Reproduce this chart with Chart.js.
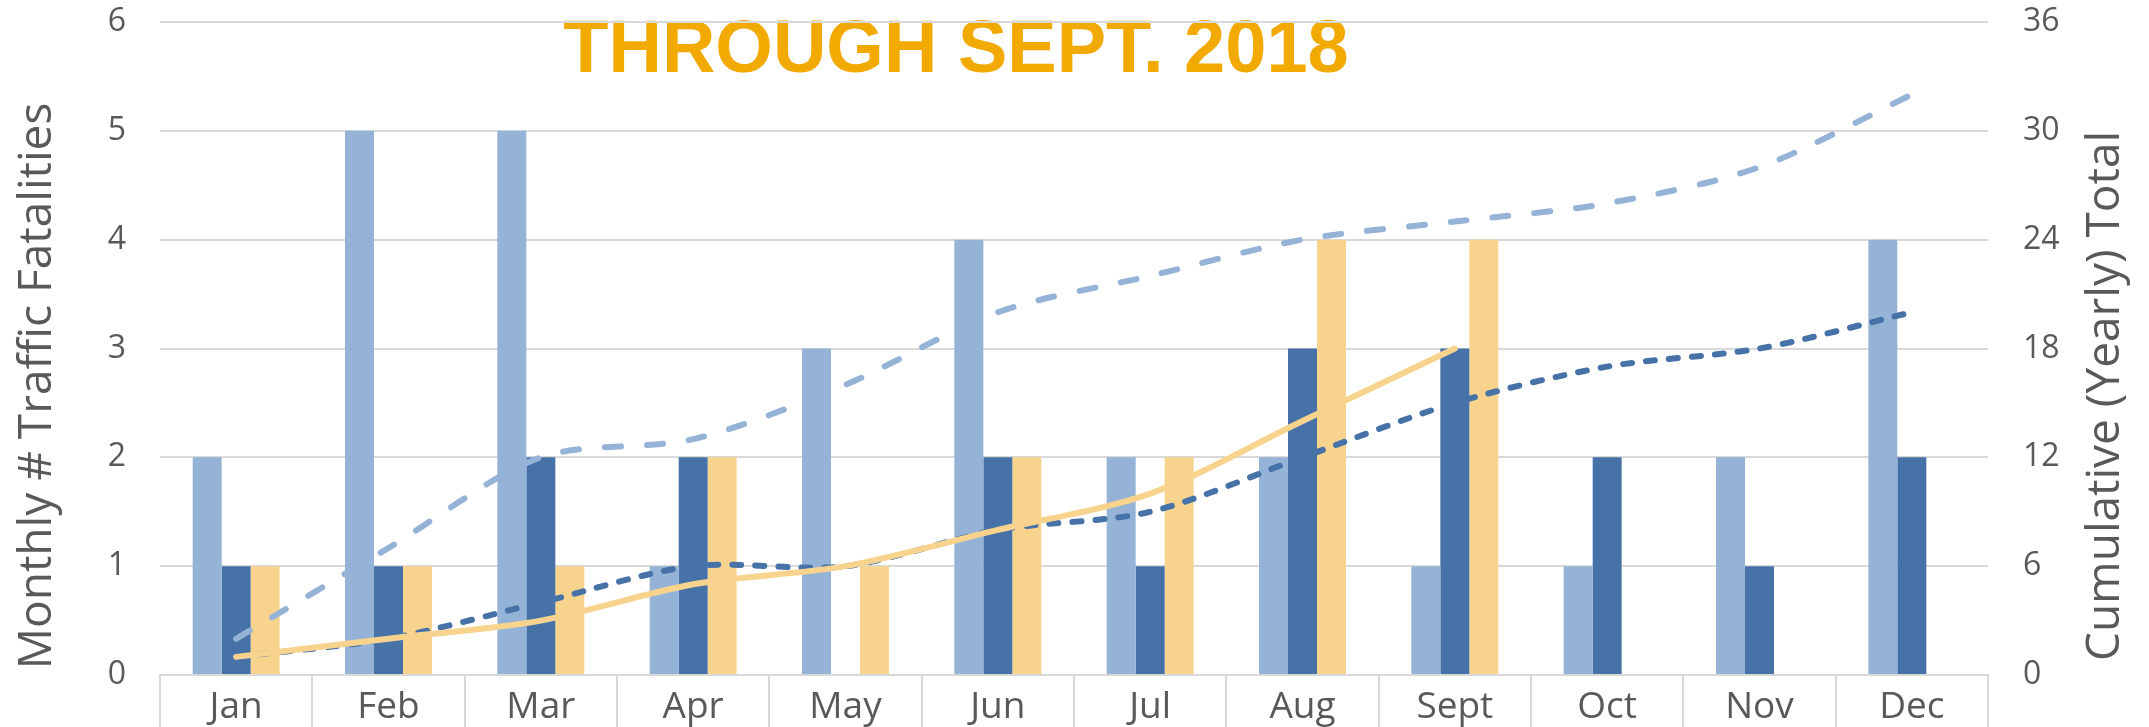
<!DOCTYPE html>
<html>
<head>
<meta charset="utf-8">
<script src="https://cdn.jsdelivr.net/npm/chart.js@4.4.0/dist/chart.umd.min.js"></script>
<style>
  html, body { margin: 0; padding: 0; background: #fff; }
  #wrap { width: 2149px; height: 727px; position: relative; }
</style>
</head>
<body>
<div id="wrap"><canvas id="chart"></canvas></div>
<script>
// 月ラベル
const months = ['Jan', 'Feb', 'Mar', 'Apr', 'May', 'Jun', 'Jul', 'Aug', 'Sept', 'Oct', 'Nov', 'Dec'];

// 月別死亡者数
const monthly2016 = [2, 5, 5, 1, 3, 4, 2, 2, 1, 1, 2, 4];
const monthly2017 = [1, 1, 2, 2, 0, 2, 1, 3, 3, 2, 1, 2];
const monthly2018 = [1, 1, 1, 2, 1, 2, 2, 4, 4, null, null, null];

// 年間累計
const cumulative2016 = [2, 7, 12, 13, 16, 20, 22, 24, 25, 26, 28, 32];
const cumulative2017 = [1, 2, 4, 6, 6, 8, 9, 12, 15, 17, 18, 20];
const cumulative2018 = [1, 2, 3, 5, 6, 8, 10, 14, 18, null, null, null];

// 目盛り
const leftTicks = [0, 1, 2, 3, 4, 5, 6];
const rightTicks = [0, 6, 12, 18, 24, 30, 36];

// テキスト
const chartTitle = 'THROUGH SEPT. 2018';
const leftAxisTitle = 'Monthly # Traffic Fatalities';
const rightAxisTitle = 'Cumulative (Yearly) Total';

// 色
const lightBlue = '#95B3D7';
const darkBlue = '#4672A8';
const gold = '#F8D38D';
const titleColor = '#F2A900';
const textColor = '#595959';
const gridColor = '#D9D9D9';

const FONT = '"Open Sans", sans-serif';

// タイトル・軸タイトル描画プラグイン
const textPlugin = {
  id: 'textPlugin',
  beforeDraw(chart) {
    const ctx = chart.ctx;
    ctx.save();
    ctx.font = 'bold 74px "Liberation Sans", Arial, sans-serif';
    ctx.fillStyle = titleColor;
    ctx.textAlign = 'center';
    ctx.textBaseline = 'alphabetic';
    ctx.fillText(chartTitle, 956, 72);
    ctx.restore();
  },
  afterDraw(chart) {
    const ctx = chart.ctx;
    ctx.save();
    ctx.font = '46px ' + FONT;
    ctx.fillStyle = textColor;
    ctx.textAlign = 'center';
    ctx.textBaseline = 'middle';

    ctx.save();
    ctx.translate(38, 386);
    ctx.rotate(-Math.PI / 2);
    ctx.fillText(leftAxisTitle, 0, 0);
    ctx.restore();

    ctx.save();
    ctx.translate(2106, 396);
    ctx.rotate(-Math.PI / 2);
    ctx.fillText(rightAxisTitle, 0, 0);
    ctx.restore();

    ctx.restore();
  }
};

function barSet(label, data, color) {
  return {
    type: 'bar',
    label: label,
    data: data,
    backgroundColor: color,
    borderWidth: 0,
    yAxisID: 'y',
    order: 2,
    categoryPercentage: 0.571,
    barPercentage: 1.0,
  };
}

function lineSet(label, data, color, dash, order) {
  return {
    type: 'line',
    label: label,
    data: data,
    borderColor: color,
    backgroundColor: color,
    borderWidth: 6,
    borderDash: dash,
    borderCapStyle: 'round',
    borderJoinStyle: 'round',
    pointRadius: 0,
    tension: 0.3,
    fill: false,
    spanGaps: false,
    yAxisID: 'y1',
    order: order,
  };
}

// 縦軸の上下余白を消してプロット領域を固定
function fixVertical(width) {
  return function (scale) {
    scale.width = width;
    scale.paddingTop = 0;
    scale.paddingBottom = 0;
  };
}

const ctx = document.getElementById('chart').getContext('2d');
new Chart(ctx, {
  data: {
    labels: months,
    datasets: [
      barSet('2016', monthly2016, lightBlue),
      barSet('2017', monthly2017, darkBlue),
      barSet('2018', monthly2018, gold),
      lineSet('2016 Cumulative', cumulative2016, lightBlue, [16, 26], 1),
      lineSet('2017 Cumulative', cumulative2017, darkBlue, [9, 14], 1),
      lineSet('2018 Cumulative', cumulative2018, gold, [], 0),
    ]
  },
  options: {
    responsive: true,
    maintainAspectRatio: false,
    animation: false,
    layout: {
      padding: { top: 22, left: 0, right: 0, bottom: 0 }
    },
    plugins: {
      legend: { display: false },
      tooltip: { enabled: false },
    },
    scales: {
      x: {
        offset: true,
        grid: {
          display: true,
          offset: true,
          drawOnChartArea: false,
          drawTicks: true,
          tickLength: 60,
          color: gridColor,
          lineWidth: 2,
        },
        border: { display: true, color: gridColor, width: 2 },
        ticks: {
          color: textColor,
          font: { family: FONT, size: 37 },
          padding: -50,
          maxRotation: 0,
          autoSkip: false,
        },
        afterFit(scale) {
          scale.height = 52;
          scale.paddingLeft = 0;
          scale.paddingRight = 0;
        }
      },
      y: {
        position: 'left',
        min: leftTicks[0],
        max: leftTicks[leftTicks.length - 1],
        ticks: {
          stepSize: leftTicks[1] - leftTicks[0],
          color: textColor,
          font: { family: FONT, size: 32 },
          padding: 34,
        },
        grid: {
          color: gridColor,
          lineWidth: 2,
          drawTicks: false,
        },
        border: { display: false },
        afterFit: fixVertical(160)
      },
      y1: {
        position: 'right',
        min: rightTicks[0],
        max: rightTicks[rightTicks.length - 1],
        ticks: {
          stepSize: rightTicks[1] - rightTicks[0],
          color: textColor,
          font: { family: FONT, size: 32 },
          padding: 35,
        },
        grid: { display: false, drawTicks: false },
        border: { display: false },
        afterFit: fixVertical(161)
      }
    }
  },
  plugins: [textPlugin]
});
</script>
</body>
</html>
